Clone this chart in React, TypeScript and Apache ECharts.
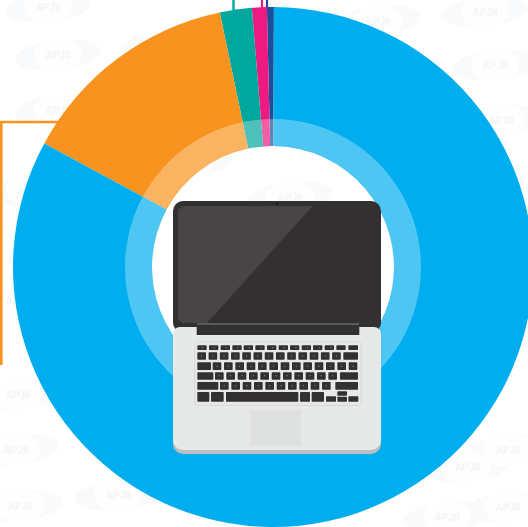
import React, { useEffect, useRef } from "react";
import * as echarts from "echarts";

const sliceNames = ["Biru", "Oranye", "Hijau", "Merah muda", "Biru tua"];
const sliceValues = [82.83, 13.83, 1.99, 0.92, 0.43];
const sliceColors = ["#00AEEF", "#F7931E", "#00A79D", "#ED1A82", "#1B4F9C"];
const ringValues = [100];

const W = 528;
const H = 527;
const CX = 273;
const CY = 267;

const marks: [number, number][] = [
  [58, 55], [58, 110], [48, 7], [165, 45], [378, 21], [485, 12], [495, 65], [501, 120],
  [18, 395], [16, 450], [20, 506], [118, 495], [447, 517], [508, 450], [508, 507],
  [467, 467], [290, 197], [190, 162], [30, 190], [510, 180], [510, 290], [18, 300],
];

function watermark(): any[] {
  const out: any[] = [];
  marks.forEach(([x, y]) => {
    out.push({ type: "ellipse", x, y, rotation: 0.1, z: 0, silent: true, shape: { cx: 0, cy: 0, rx: 43, ry: 15 }, style: { fill: "#F8FAFC" } });
    out.push({ type: "ellipse", x, y, z: 0, z2: 1, silent: true, shape: { cx: 0, cy: 0, rx: 24, ry: 17 }, style: { fill: "#FEFEFE" } });
    out.push({
      type: "text", x, y, z: 0, z2: 2, silent: true,
      style: { text: "APJII", fill: "#F3F5F7", font: "bold 10px 'Liberation Sans'", textAlign: "center", textVerticalAlign: "middle" },
    });
  });
  return out;
}

const zx = (v: number) => 170 + v / 3;
const zy = (v: number) => 195 + v / 3;

function laptop(): any[] {
  const z = 10;
  let z2 = 0;
  const rect = (x: number, y: number, w: number, h: number, fill: string, r: any = 0, extra: any = {}) => ({
    type: "rect", z, z2: z2++, silent: true, shape: { x, y, width: w, height: h, r }, style: { fill, ...extra },
  });
  const key = (a: number, b: number, t: number, u: number) => rect(zx(a), zy(t), (b - a) / 3, (u - t) / 3, "#333031", 0.7);
  const els: any[] = [];
  // lid
  els.push(rect(173, 201, 208, 130, "#333031", [10, 10, 8, 8]));
  els.push({ type: "polygon", z, z2: z2++, silent: true, shape: { points: [[182, 206], [312.7, 206], [207, 323], [182, 323], [178, 319], [178, 210]] }, style: { fill: "#484546" } });
  els.push({ type: "circle", z, z2: z2++, silent: true, shape: { cx: 277, cy: 204, r: 0.8 }, style: { fill: "#0d0d0d" } });
  // base
  els.push(rect(173, 340, 208, 114, "#BCBEC0", [0, 0, 10, 10]));
  els.push(rect(173, 327, 208, 123, "#E7E9E8", [7, 7, 10, 10]));
  // hinge
  els.push(rect(197, 323, 162, 12, "#333031"));
  els.push(rect(197, 323, 162, 2, "#58595B"));
  els.push(rect(196, 327, 1, 8, "#A7A9AC"));
  els.push(rect(359, 327, 1, 8, "#A7A9AC"));
  // keyboard tray
  els.push(rect(194.7, 342, 166.3, 63.5, "#E7E9E8", 2.5, { stroke: "#D1D3D4", lineWidth: 0.8 }));
  // row 1
  [82, 117, 152, 187, 221, 256, 291, 326, 360, 395, 429, 464, 499].forEach((a) => els.push(key(a, a + 28, 451, 465)));
  els.push(key(535, 564, 451, 465));
  // row 2
  for (let i = 0; i < 13; i++) els.push(key(82 + i * 33.7, 108 + i * 33.7, 472, 494));
  els.push(key(520, 564, 472, 494));
  // row 3
  els.push(key(82, 123, 502, 525));
  for (let i = 0; i < 13; i++) els.push(key(128 + i * 34, 154 + i * 34, 502, 525));
  // row 4
  els.push(key(82, 130, 532, 554));
  for (let i = 0; i < 11; i++) els.push(key(135 + i * 34, 161 + i * 34, 532, 554));
  els.push(key(510, 564, 532, 554));
  // row 5
  els.push(key(82, 145, 561, 584));
  for (let i = 0; i < 10; i++) els.push(key(150 + i * 34, 176 + i * 34, 561, 584));
  els.push(key(496, 564, 561, 584));
  // row 6
  els.push(key(82, 118, 591, 620));
  els.push(key(123, 161, 591, 620));
  els.push(key(168, 385, 591, 620));
  els.push(key(390, 420, 591, 620));
  els.push(key(425, 462, 591, 620));
  els.push(key(468, 498, 604, 620));
  els.push(key(502, 531, 589, 602));
  els.push(key(502, 531, 605, 620));
  els.push(key(535, 565, 604, 620));
  // legends: faint marks on the keys
  const dot = (x: number, y: number) => rect(zx(x), zy(y), 1.2, 1, "#8F8E8E");
  for (let i = 0; i < 13; i++) els.push(dot(93 + i * 33.7, 481));
  for (let i = 0; i < 13; i++) els.push(dot(139 + i * 34, 512));
  for (let i = 0; i < 11; i++) els.push(dot(146 + i * 34, 541));
  for (let i = 0; i < 10; i++) els.push(dot(161 + i * 34, 571));
  for (let i = 0; i < 12; i++) els.push(dot(96 + i * 35, 457));
  // trackpad
  els.push(rect(250, 410, 51, 36, "#DFE0E0", 0, { stroke: "#E3E4E5", lineWidth: 0.8 }));
  return els;
}

function leaders(): any[] {
  const line = (points: number[][], stroke: string, lineWidth: number) => ({
    type: "polyline", z: 1, silent: true, shape: { points }, style: { stroke, lineWidth, fill: "none" },
  });
  return [
    line([[60, 122], [1.3, 122], [1.3, 365]], sliceColors[1], 2.6),
    line([[233.5, 0], [233.5, 12]], sliceColors[2], 2.4),
    line([[262, 0], [262, 10]], sliceColors[3], 2.2),
    line([[267, 0], [267, 10]], sliceColors[4], 2.2),
  ];
}

export default function App() {
  const ref = useRef<HTMLDivElement>(null);
  useEffect(() => {
    document.body.style.margin = "0";
    const chart = echarts.init(ref.current!, null, { renderer: "svg" });
    chart.setOption({
      animation: false,
      backgroundColor: "#FFFFFF",
      tooltip: { show: false },
      graphic: { elements: [...watermark(), ...leaders(), ...laptop()] },
      series: [
        {
          type: "pie",
          z: 2,
          silent: true,
          center: [CX, CY],
          radius: [121, 260],
          startAngle: 89.8,
          clockwise: false,
          avoidLabelOverlap: false,
          label: { show: false },
          labelLine: { show: false },
          // drawn anticlockwise from the top: dark blue, pink, teal, orange, blue
          data: [...sliceNames.keys()].reverse().map((i) => ({
            name: sliceNames[i],
            value: sliceValues[i],
            itemStyle: { color: sliceColors[i] },
          })),
        },
        {
          type: "pie",
          z: 3,
          silent: true,
          center: [CX, CY],
          radius: [121, 148],
          label: { show: false },
          labelLine: { show: false },
          data: ringValues.map((v) => ({ name: "ring", value: v, itemStyle: { color: "rgba(255,255,255,0.3)" } })),
        },
      ],
    });
    return () => chart.dispose();
  }, []);
  return <div ref={ref} style={{ position: "fixed", left: 0, top: 0, width: W, height: H }} />;
}
